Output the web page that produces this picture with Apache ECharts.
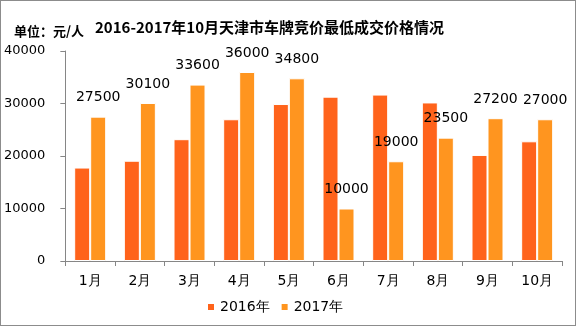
<!DOCTYPE html>
<html><head><meta charset="utf-8">
<script src="https://cdn.jsdelivr.net/npm/echarts@6/dist/echarts.min.js"></script>
<style>html,body{margin:0;padding:0;background:#fff}#c{width:576px;height:326px;box-sizing:border-box;border:1px solid #8c8c8c}</style>
</head><body><div id="c"></div>
<script>
const categories = ['1月','2月','3月','4月','5月','6月','7月','8月','9月','10月'];
const s2016 = [17800,19100,23200,27000,29900,31300,31700,30200,20200,22800];
const s2017 = [27500,30100,33600,36000,34800,10000,19000,23500,27200,27000];
const yTicks = [0,10000,20000,30000,40000];

const chart = echarts.init(document.getElementById('c'));
const numFont = 'DejaVu Sans';
chart.setOption({
  animation:false,
  backgroundColor:'#fff',
  title:[
    {text:'2016-2017年10月天津市车牌竞价最低成交价格情况',left:89,top:14,
     textStyle:{fontSize:15,fontWeight:'bold',color:'#000',fontFamily:'Noto Sans CJK SC'}},
    {text:'单位：元/人',left:8,top:19,
     textStyle:{fontSize:13,fontWeight:'bold',color:'#000',fontFamily:'Noto Sans CJK SC'}}
  ],
  legend:{left:200,top:294,itemWidth:8,itemHeight:8,itemGap:10,icon:'rect',
    textStyle:{fontSize:14,color:'#000',fontFamily:numFont}},
  grid:{left:62,right:13,top:50,bottom:64},
  xAxis:{type:'category',data:categories,
    axisLine:{lineStyle:{color:'#868686'}},
    axisTick:{show:true,length:5,lineStyle:{color:'#868686'}},
    axisLabel:{fontSize:14,color:'#000',margin:13,fontFamily:numFont}},
  yAxis:{type:'value',min:yTicks[0],max:yTicks[yTicks.length-1],interval:10000,
    axisLine:{show:true,lineStyle:{color:'#868686'}},
    axisTick:{show:true,length:5,lineStyle:{color:'#868686'}},
    splitLine:{show:false},
    axisLabel:{fontSize:13,color:'#000',margin:20,fontFamily:numFont,formatter:v=>String(v)}},
  series:[
    {name:'2016年',type:'bar',data:s2016,barWidth:16,barGap:'0%',
     itemStyle:{color:'#FF631B',borderColor:'#fff',borderWidth:1}},
    {name:'2017年',type:'bar',data:s2017,barWidth:16,
     itemStyle:{color:'#FF951F',borderColor:'#fff',borderWidth:1},
     label:{show:true,position:'top',distance:12,fontSize:14,color:'#000',fontFamily:numFont}}
  ]
});
</script></body></html>
